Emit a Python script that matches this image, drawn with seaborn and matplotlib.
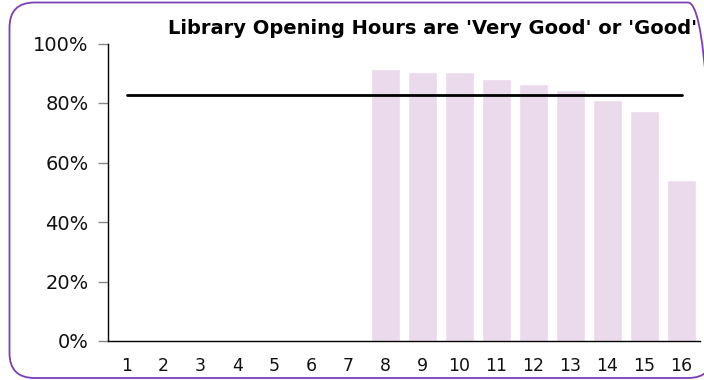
import matplotlib
matplotlib.use("Agg")
import matplotlib.pyplot as plt
from matplotlib.patches import FancyBboxPatch
from matplotlib.transforms import IdentityTransform
from matplotlib.ticker import FuncFormatter
import seaborn as sns
import pandas as pd

# Library survey: share rating opening hours 'Very Good' or 'Good'
libraries = [str(i) for i in range(1, 17)]
pct_good = [None, None, None, None, None, None, None,
            91.4, 90.5, 90.5, 88.0, 86.4, 84.4, 81.1, 77.3, 54.0]
average = [82.6] * 16

title = "Library Opening Hours are 'Very Good' or 'Good'"
bar_color = "#ebd9ec"
frame_color = "#7b3fb5"

df = pd.DataFrame({"library": libraries,
                   "pct": [v if v is not None else 0 for v in pct_good],
                   "avg": average})

sns.set_style("white")
plt.rcParams["font.family"] = ["DejaVu Sans"]

W, H = 704, 380
fig = plt.figure(figsize=(W / 100, H / 100), dpi=100)
ax = fig.add_axes([108 / W, 1 - 341 / H, 592 / W, 297.5 / H])

sns.barplot(data=df, x="library", y="pct", color=bar_color, width=0.79,
            saturation=1, ax=ax, zorder=1)
sns.lineplot(x=list(range(16)), y=df["avg"], color="black", linewidth=2,
             ax=ax, zorder=3)

ax.set_xlim(-0.5, 15.5)
ax.set_ylim(0, 100)
ax.set_yticks([0, 20, 40, 60, 80, 100])
ax.yaxis.set_major_formatter(FuncFormatter(lambda v, _: f"{v:.0f}%"))
ax.set_xlabel("")
ax.set_ylabel("")
ax.tick_params(axis="y", left=True, length=7, width=1, color="#888888",
               labelsize=14, pad=7, labelcolor="#111111")
ax.tick_params(axis="x", bottom=False, labelsize=12.5, pad=8,
               labelcolor="#111111")

for side in ("top", "right"):
    ax.spines[side].set_visible(False)
for side in ("left", "bottom"):
    ax.spines[side].set_color("black")
    ax.spines[side].set_linewidth(1)

fig.text(433 / W, 1 - 28 / H, title, ha="center", va="center",
         fontsize=14, fontweight="bold", color="black")

# rounded outer frame, in pixel coordinates (origin bottom-left)
left, right, top, bottom = 9.5, 713, 2.5, 378
frame = FancyBboxPatch((left, H - bottom), right - left, bottom - top,
                       boxstyle="round,pad=0,rounding_size=25",
                       transform=IdentityTransform(), facecolor="none",
                       edgecolor=frame_color, linewidth=1.3, clip_on=False)
fig.patches.append(frame)

fig.savefig("out.png", dpi=100)
